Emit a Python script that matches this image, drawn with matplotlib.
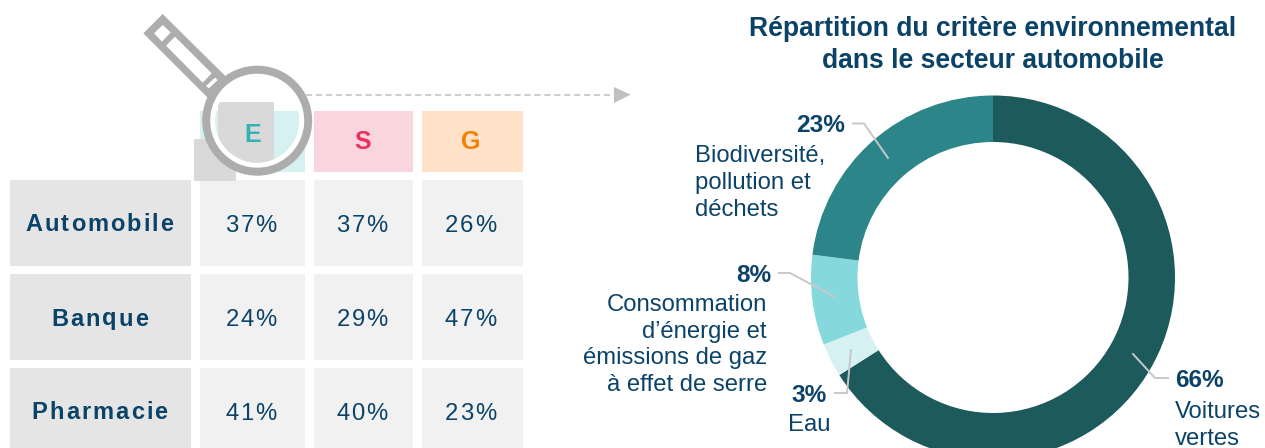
import matplotlib
matplotlib.use("Agg")
import matplotlib.pyplot as plt
from matplotlib.patches import Rectangle, Polygon, Circle, Annulus
from matplotlib.text import Text
from matplotlib.transforms import IdentityTransform

# ---- data ----
pillars = ["E", "S", "G"]
sectors = ["Automobile", "Banque", "Pharmacie"]
scores = [[37, 37, 26], [24, 29, 47], [41, 40, 23]]
donut_title = "Répartition du critère environnemental\ndans le secteur automobile"
donut_values = [66, 3, 8, 23]
donut_names = ["Voitures\nvertes", "Eau",
               "Consommation\nd’énergie et\némissions de gaz\nà effet de serre",
               "Biodiversité,\npollution et\ndéchets"]

# ---- style ----
W, H = 1265, 448
NAVY = "#0B4368"
FONT = "Liberation Sans"
plt.rcParams["font.family"] = [FONT, "DejaVu Sans"]
donut_colors = ["#1C5A5C", "#D5F1F2", "#85D8DB", "#2B8589"]
pillar_text = ["#36B0B5", "#EC2F5F", "#F57F00"]
pillar_bg = ["#D5F1F2", "#F9D6DF", "#FFE2C7"]
GREY = "#ADADAD"
LEAD = "#C8C8C8"


class SpacedText(Text):
    """Text centred on x, baseline on y, with extra space between letters."""
    def __init__(self, x, y, s, spacing=0, **kw):
        super().__init__(x, y, s, **kw)
        self.spacing = spacing

    def draw(self, renderer):
        s = self.get_text()
        fp = self.get_fontproperties()
        width = lambda t: renderer.get_text_width_height_descent(t, fp, False)[0] if t else 0
        total = width(s) + self.spacing * (len(s) - 1)
        x0, y0 = self.get_transform().transform((self.get_position()))
        for i, ch in enumerate(s):
            t = Text(x0 - total / 2 + width(s[:i]) + i * self.spacing, y0, ch,
                     color=self.get_color(), fontproperties=fp, ha="left",
                     va="baseline", transform=IdentityTransform())
            t.set_figure(self.get_figure())
            t.draw(renderer)


fig = plt.figure(figsize=(W / 100, H / 100), dpi=100, facecolor="white")

# ---- donut ----
cx, cy, R = 993, 277.5, 182
m = 1.1
pax = fig.add_axes([(cx - R * m) / W, (H - cy - R * m) / H, 2 * R * m / W, 2 * R * m / H], zorder=1)
pax.pie(donut_values, colors=donut_colors, startangle=90, counterclock=False, radius=1,
        wedgeprops=dict(width=46.5 / 182, linewidth=0))
pax.set_xlim(-m, m)
pax.set_ylim(-m, m)
pax.set_aspect("equal")
pax.axis("off")

# ---- overlay in pixel coordinates ----
ax = fig.add_axes([0, 0, 1, 1], zorder=2)
ax.set_xlim(0, W)
ax.set_ylim(H, 0)
ax.axis("off")
ax.patch.set_alpha(0)


def rect(x0, x1, y0, y1, c, z=1, **kw):
    p = Rectangle((x0, y0), x1 - x0, y1 - y0, facecolor=c, edgecolor="none", zorder=z, **kw)
    ax.add_patch(p)
    return p


# table
col_x = [(200, 305), (314, 413), (422, 523)]
col_text = [251, 362, 470.5]
row_y = [(180, 266), (274, 360), (368, 460)]
label_base = [231, 325.5, 419]
value_base = [232, 326.5, 420]
for j, (x0, x1) in enumerate(col_x):
    rect(x0, x1, 111, 172, pillar_bg[j])
    for i, (y0, y1) in enumerate(row_y):
        rect(x0, x1, y0, y1, "#F1F1F1")
        ax.add_artist(SpacedText(col_text[j], value_base[i],
                                 f"{scores[i][j]}%", spacing=1.8, color=NAVY,
                                 fontsize=17.2, family=FONT, zorder=3, transform=ax.transData))
for i, (y0, y1) in enumerate(row_y):
    rect(10, 191, y0, y1, "#E5E5E5")
    ax.add_artist(SpacedText(99.5, label_base[i], sectors[i], spacing=2.0, color=NAVY,
                             fontsize=17, fontweight="bold", family=FONT, zorder=3,
                             transform=ax.transData))
ax.text(362.5, 142, pillars[1], color=pillar_text[1], fontsize=18, fontweight="bold",
        ha="center", va="center", zorder=3)
ax.text(471, 142, pillars[2], color=pillar_text[2], fontsize=18, fontweight="bold",
        ha="center", va="center", zorder=3)

# magnifier
z = lambda pts: [(130 + a / 3, b / 3) for a, b in pts]
rect(194, 236, 139, 181, "#D9D9D9", z=4)
ax.add_patch(Polygon(z([(98, 42), (40, 100), (235, 295), (290, 232)]), fc=GREY, ec="none", zorder=5))
for pts in ([(72, 100), (98, 75), (122, 97), (96, 125)],
            [(108, 137), (135, 110), (245, 220), (218, 248)],
            [(228, 258), (255, 233), (263, 240), (237, 265)]):
    ax.add_patch(Polygon(z(pts), fc="white", ec="none", zorder=6))
lx, ly = 257.2, 120.7
ax.add_patch(Circle((lx, ly), 50, fc="white", ec="none", zorder=7))
clip = Circle((lx, ly), 42, transform=ax.transData)
for args in ((199, 305, 111, 172, pillar_bg[0]), (218, 274, 102, 170, "#D9D9D9")):
    rect(*args, z=8).set_clip_path(clip)
ax.add_patch(Annulus((lx, ly), 55, 8, fc=GREY, ec="none", zorder=9))
ax.text(252.5, 135, pillars[0], color=pillar_text[0], fontsize=18, fontweight="bold",
        ha="center", va="center", zorder=10)

# dashed arrow
ax.plot([306, 615], [94.7, 94.7], color="#C0C0C0", lw=1.1, dashes=(4, 2.5), zorder=2)
ax.add_patch(Polygon([(614, 87), (614, 103), (630.5, 94.7)], fc="#C0C0C0", ec="none", zorder=2))

# donut title
ax.text(993, 45, donut_title, color=NAVY, fontsize=19.1, fontweight="bold", ha="center",
        va="center", linespacing=1.30, zorder=3)

# leaders
for xs, ys in (([1133, 1155, 1168], [354, 378, 378]),
               ([835, 847, 851], [393, 393, 350]),
               ([779, 790, 835], [273, 273, 297]),
               ([853, 864, 888], [123.5, 123.5, 158])):
    ax.plot(xs, ys, color=LEAD, lw=1.4, zorder=3, solid_joinstyle="miter")

# donut labels
lab = dict(color=NAVY, zorder=3)
pct = dict(fontsize=17.6, fontweight="bold", va="center", **lab)
name = dict(fontsize=17.2, va="center", linespacing=1.28, **lab)
ax.text(1175, 380.5, f"{donut_values[0]}%", ha="left", **pct)
ax.text(1175, 425.5, donut_names[0], ha="left", **name)
ax.text(827, 395.5, f"{donut_values[1]}%", ha="right", **pct)
ax.text(809, 425, donut_names[1], ha="center", **name)
ax.text(771, 275.5, f"{donut_values[2]}%", ha="right", **pct)
ax.text(767, 345, donut_names[2], ha="right", multialignment="right", **name)
ax.text(845, 125.5, f"{donut_values[3]}%", ha="right", **pct)
ax.text(695, 183, donut_names[3], ha="left", **name)

fig.savefig("out.png", dpi=100)
